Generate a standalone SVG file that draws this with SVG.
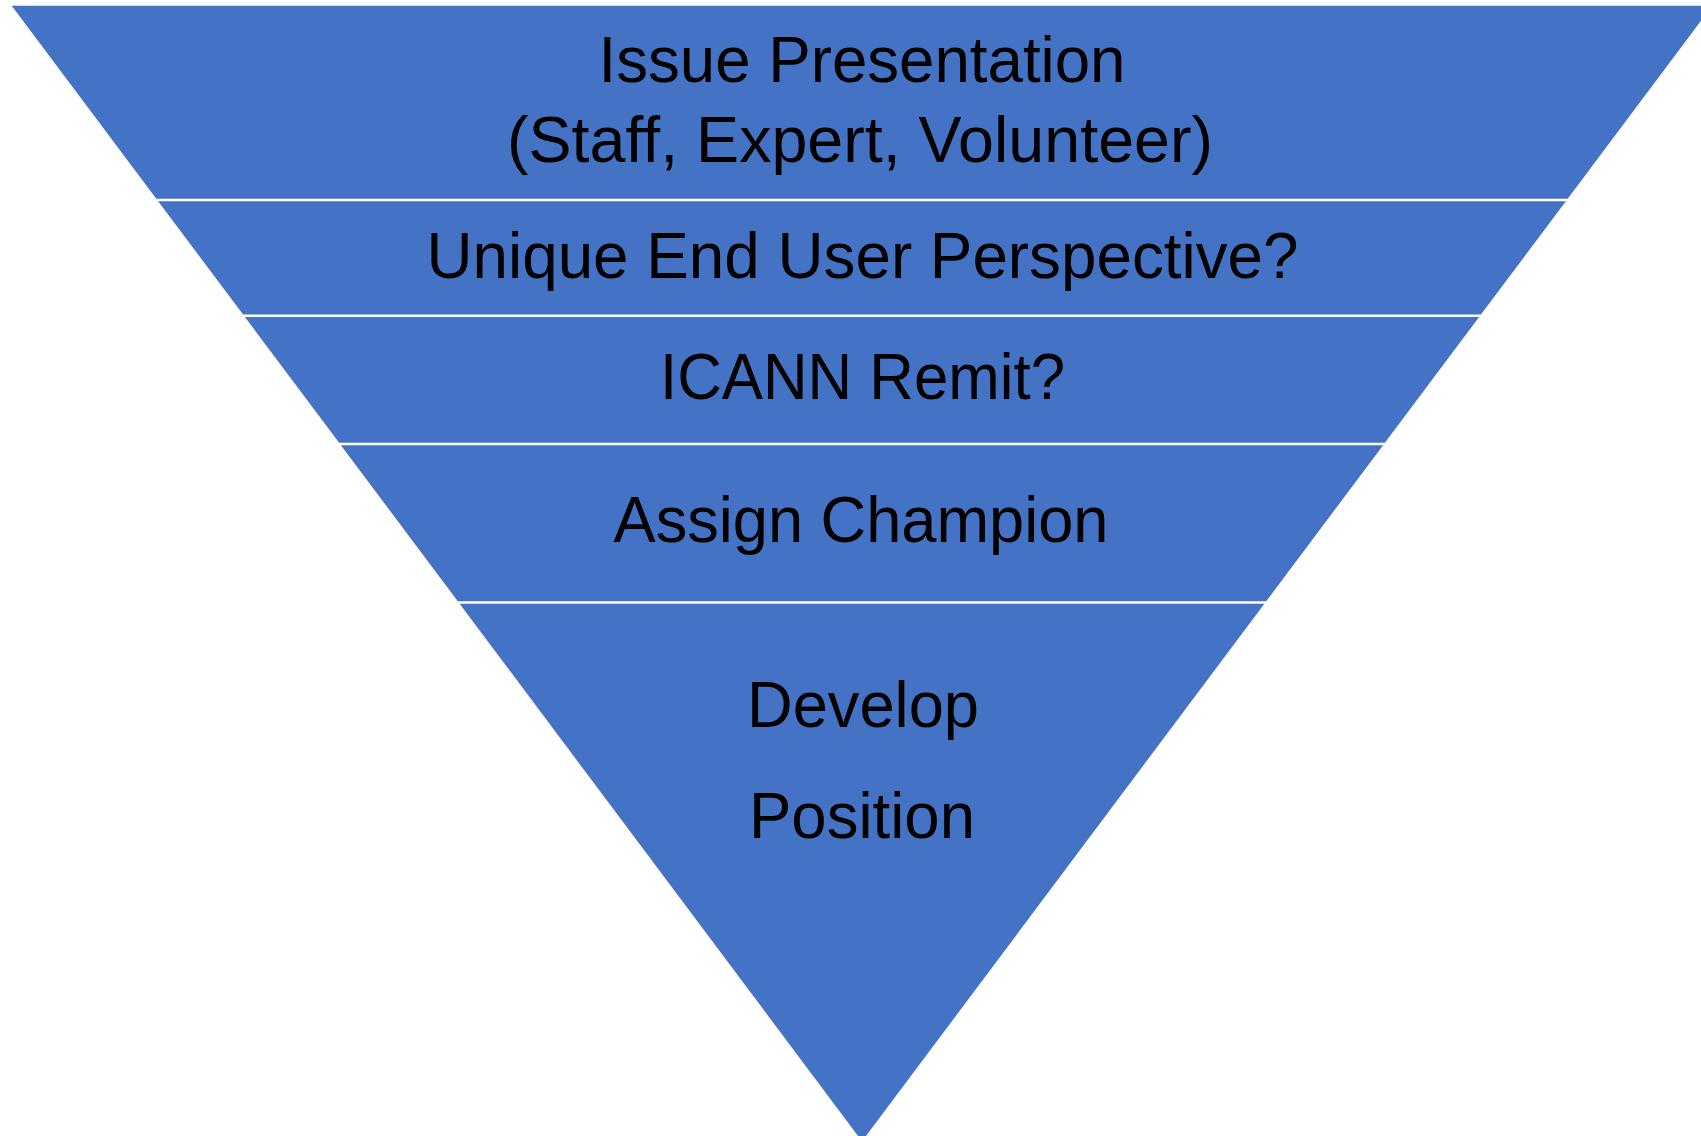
<svg xmlns="http://www.w3.org/2000/svg" width="1701" height="1136" viewBox="0 0 1701 1136">
<style>
.band{fill:#4472C4;}
.lbl{font-family:"Liberation Sans",Arial,sans-serif;font-size:64px;fill:#000000;text-anchor:middle;}
</style>
<rect x="0" y="0" width="1701" height="1136" fill="#FFFFFF"/>
<g id="band1">
<polygon class="band" points="11.7,5.7 1712.3,5.7 1567.7,198.8 156.3,198.8"/>
<text class="lbl" x="862" y="82" textLength="527" lengthAdjust="spacingAndGlyphs">Issue Presentation</text>
<text class="lbl" x="860" y="161.5" textLength="706" lengthAdjust="spacingAndGlyphs">(Staff, Expert, Volunteer)</text>
</g>
<g id="band2">
<polygon class="band" points="158.1,201.2 1565.9,201.2 1480.9,314.6 243.1,314.6"/>
<text class="lbl" x="862.5" y="278.3" textLength="872" lengthAdjust="spacingAndGlyphs">Unique End User Perspective?</text>
</g>
<g id="band3">
<polygon class="band" points="244.9,317 1479.1,317 1384.9,442.8 339.1,442.8"/>
<text class="lbl" x="862.5" y="399.3" textLength="405" lengthAdjust="spacingAndGlyphs">ICANN Remit?</text>
</g>
<g id="band4">
<polygon class="band" points="340.9,445.2 1383.1,445.2 1266.2,601.3 457.8,601.3"/>
<text class="lbl" x="861" y="541.7" textLength="495" lengthAdjust="spacingAndGlyphs">Assign Champion</text>
</g>
<g id="band5">
<polygon class="band" points="459.6,603.7 1264.4,603.7 862,1141.3"/>
<text class="lbl" x="863" y="726.7" textLength="232" lengthAdjust="spacingAndGlyphs">Develop</text>
<text class="lbl" x="862" y="838.3" textLength="226" lengthAdjust="spacingAndGlyphs">Position</text>
</g>
<g id="connectors"></g>
</svg>
